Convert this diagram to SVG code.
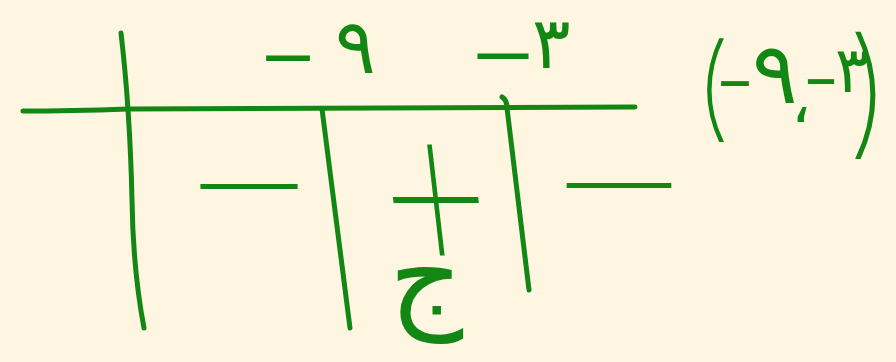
<svg xmlns="http://www.w3.org/2000/svg" width="896" height="362" viewBox="0 0 896 362">
<style>
.ink{fill:none;stroke:#138713;stroke-width:5;stroke-linecap:round;stroke-linejoin:round}
.t{fill:#138713;font-family:"DejaVu Sans","Noto Sans",sans-serif}
.thin{font-family:"Inter","DejaVu Sans",sans-serif;font-weight:100}
.paren{stroke:#138713;stroke-width:1.8}
</style>
<rect width="896" height="362" fill="#FEF6E1"/>
<g id="connectors">
<path class="ink" d="M23,111 Q70,111 128,109 L635,107"/>
<path class="ink" d="M121,33 Q130,110 132,200 Q133,270 144,328"/>
<path class="ink" d="M322,109 L350,328"/>
<path class="ink" d="M502,97 Q507,100 507,108 L529,290"/>
</g>
<g id="label-m9">
<text class="t" direction="ltr"><tspan x="258" y="77" font-size="70" textLength="60" lengthAdjust="spacingAndGlyphs">-</tspan><tspan x="335" y="73" font-size="76">٩</tspan></text>
</g>
<g id="label-m3">
<text class="t" direction="ltr"><tspan x="468" y="75" font-size="70" textLength="70" lengthAdjust="spacingAndGlyphs">-</tspan><tspan x="532" y="68" font-size="72">٣</tspan></text>
</g>
<g id="interval">
<text class="t" direction="ltr"><tspan class="thin paren" x="695" y="126" font-size="112">(</tspan><tspan x="716" y="100" font-size="60" textLength="38" lengthAdjust="spacingAndGlyphs">-</tspan><tspan x="752" y="103" font-size="85">٩</tspan><tspan x="791" y="122" font-size="62">،</tspan><tspan x="803" y="98" font-size="60" textLength="36" lengthAdjust="spacingAndGlyphs">-</tspan><tspan x="835" y="92" font-size="64">٣</tspan><tspan class="thin paren" x="847" y="139" font-size="138">)</tspan></text>
</g>
<g id="sign-left">
<text class="t" x="184" y="205" font-size="60" textLength="130" lengthAdjust="spacingAndGlyphs">−</text>
</g>
<g id="sign-middle">
<text class="t thin" x="0" y="0" font-size="207" text-anchor="middle" transform="translate(436,201) skewX(6.6) scale(1,1.3) translate(0,58)">+</text>
<text class="t" x="426" y="316" font-size="115" text-anchor="middle">ج</text>
</g>
<g id="sign-right">
<text class="t" x="549" y="204" font-size="60" textLength="140" lengthAdjust="spacingAndGlyphs">−</text>
</g>
</svg>
